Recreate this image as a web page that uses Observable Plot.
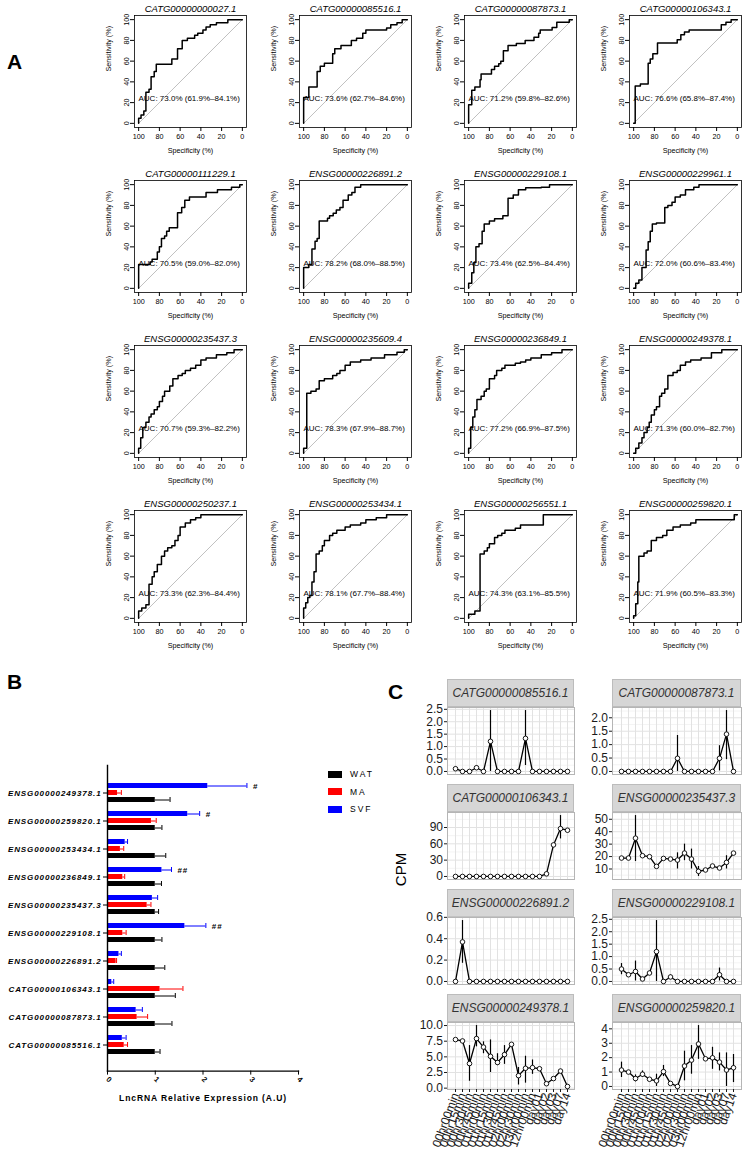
<!DOCTYPE html>
<html><head><meta charset="utf-8">
<script src="https://cdn.jsdelivr.net/npm/d3@7"></script>
<script src="https://cdn.jsdelivr.net/npm/@observablehq/plot@0.6"></script>
<style>
body{margin:0;background:#fff;}
#root{position:relative;width:742px;height:1153px;overflow:hidden;font-family:"Liberation Sans",Arial,sans-serif;background:#fff;}
#root > *{position:absolute;}
.plab{font-weight:bold;font-size:21px;color:#000;}
.strip{box-sizing:border-box;background:#d6d6d6;border:1px solid #bcbcbc;color:#333;font-style:italic;font-size:12px;display:flex;align-items:center;justify-content:center;}
.leg{font-size:8.5px;letter-spacing:2px;color:#000;display:flex;align-items:center;}
.leg span.sw{display:inline-block;width:14px;height:7px;margin-right:8px;}
</style></head>
<body><div id="root"></div>
<script>
// ---------------- Panel A: ROC curves ----------------
const rocNames = ["CATG00000000027.1","CATG00000085516.1","CATG00000087873.1","CATG00000106343.1",
  "CATG00000111229.1","ENSG00000226891.2","ENSG00000229108.1","ENSG00000229961.1",
  "ENSG00000235437.3","ENSG00000235609.4","ENSG00000236849.1","ENSG00000249378.1",
  "ENSG00000250237.1","ENSG00000253434.1","ENSG00000256551.1","ENSG00000259820.1"];
const rocAuc = ["AUC: 73.0% (61.9%\u201384.1%)","AUC: 73.6% (62.7%\u201384.6%)","AUC: 71.2% (59.8%\u201382.6%)","AUC: 76.6% (65.8%\u201387.4%)",
  "AUC: 70.5% (59.0%\u201382.0%)","AUC: 78.2% (68.0%\u201388.5%)","AUC: 73.4% (62.5%\u201384.4%)","AUC: 72.0% (60.6%\u201383.4%)",
  "AUC: 70.7% (59.3%\u201382.2%)","AUC: 78.3% (67.9%\u201388.7%)","AUC: 77.2% (66.9%\u201387.5%)","AUC: 71.3% (60.0%\u201382.7%)",
  "AUC: 73.3% (62.3%\u201384.4%)","AUC: 78.1% (67.7%\u201388.4%)","AUC: 74.3% (63.1%\u201385.5%)","AUC: 71.9% (60.5%\u201383.3%)"];
// [specificity, sensitivity] after each vertical step
const rocCurves = [
  [[100,0],[100,5],[97.7,8],[95,12],[93,30],[90,33],[88,45],[85,50],[83,57],[68,62],[62.5,72],[58,80],[53,82],[46,85],[43,87],[38,90],[35,93],[31,95],[25,97],[14,100],[0,100]],
  [[100,0],[100,25],[95,35],[87,50],[84,55],[80,58],[72,67],[70,72],[64,75],[54,80],[49,82],[43,87],[40,90],[20,92],[16,95],[10,97],[5,100],[0,100]],
  [[100,0],[100,18],[97,32],[94,35],[89,42],[88,47.5],[78,52],[75,55],[71,57.5],[69,60],[66.5,70],[62,75],[54,77],[45.5,80],[37,83],[32.5,87],[31,90],[19.5,92.5],[15,97.5],[3,100],[0,100]],
  [[100,0],[98.5,36],[93.5,38],[86,58],[84,62],[81.5,67],[77,77.5],[58,80.5],[54.5,85.5],[51,88],[46.5,90],[15.5,95],[11,97.5],[6,100],[0,100]],
  [[100,0],[100,23],[89,25.5],[87,28],[82,35],[80,40],[78,48],[75,50.5],[73,55],[70.5,58.5],[62.5,73],[58.5,78],[55.5,85],[51,88],[35,92.5],[24,95],[10.5,97.5],[2.5,100],[0,100]],
  [[100,0],[100,20],[95,23],[92,38],[89,45.5],[87,48],[85,65],[77,67.5],[75,70],[71.5,72.5],[68.5,75.5],[65,78],[62,85],[57,90],[53.5,92.5],[50.5,97.5],[45,100],[0,100]],
  [[100,0],[100,5],[97,15],[95,25],[93,40],[90,43],[87,55],[85,62],[80,65],[75,67],[67,70],[62,87],[57,90],[52,95],[45,97],[30,97.5],[22,100],[0,100]],
  [[100,0],[98,5],[95,8],[92,20],[88,37],[86,45],[84,55],[82,62],[78,63],[70,78],[67,80],[63,83],[60,88],[55,90],[50,95],[42,97.5],[37,100],[0,100]],
  [[100,0],[100,5],[98,15],[96,25],[93,30],[90,35],[88,38],[85,42],[82,45],[80,50],[77,55],[75,60],[70,65],[67,72],[62,75],[58,77],[55,80],[50,82],[45,85],[40,90],[35,92],[25,95],[15,97],[8,100],[0,100]],
  [[100,0],[100,5],[97,58],[93,60],[88,62],[85,70],[80,72],[72,75],[68,77],[65,80],[60,85],[55,88],[45,90],[35,92],[22,95],[10,97.5],[3,100],[0,100]],
  [[100,0],[100,5],[98,25],[96,35],[94,42],[92,52],[88,55],[85,60],[83,62],[80,72],[75,75],[73,80],[68,82],[65,85],[55,87],[50,88],[45,90],[40,92],[30,95],[20,97],[10,100],[0,100]],
  [[100,0],[98,5],[95,10],[92,15],[90,20],[87,25],[85,30],[83,37],[80,42],[78,45],[75,55],[73,58],[70,62],[67,75],[62,78],[58,80],[55,85],[50,88],[45,90],[35,92],[25,97],[15,100],[0,100]],
  [[100,0],[100,7],[97,10],[93,13],[90,33],[87,40],[85,45],[82,52],[78,60],[75,65],[72,68],[68,70],[65,75],[62,80],[60,88],[55,92],[50,95],[45,97],[40,100],[0,100]],
  [[100,0],[100,10],[98,15],[96,20],[94,22],[92,35],[90,45],[88,62],[85,65],[82,70],[80,75],[75,80],[72,82],[68,85],[60,88],[55,90],[45,92],[40,95],[30,97],[20,100],[0,100]],
  [[100,0],[100,4],[94,7],[89,62],[85,65],[82,68],[80,72],[75,78],[72,80],[68,82],[65,85],[55,87],[50,90],[30,90],[28,100],[0,100]],
  [[100,0],[100,2.5],[98,14],[96,35],[95,60],[90,63],[87,65],[83,75],[78,78],[72,80],[68,85],[62,88],[55,90],[45,92],[40,95],[5,95],[3,100],[0,100]]
];
const rocChance = [[100,0],[0,100]];
const rocTicks = [100,80,60,40,20,0];

// ---------------- Panel B: bar chart ----------------
const barCats = ["ENSG00000249378.1","ENSG00000259820.1","ENSG00000253434.1","ENSG00000236849.1","ENSG00000235437.3",
  "ENSG00000229108.1","ENSG00000226891.2","CATG00000106343.1","CATG00000087873.1","CATG00000085516.1"];
const barGroups = ["SVF","MA","WAT"];
const barColors = ["#0000ff","#ff0000","#000000"];
const watVal = [1,1,1,1,1,1,1,1,1,1];
const watErr = [1.31,1.14,1.22,1.13,1.07,1.14,1.20,1.42,1.35,1.10];
const maVal  = [0.21,0.92,0.27,0.32,0.83,0.32,0.18,1.10,0.62,0.35];
const maErr  = [0.29,1.02,0.34,0.36,0.91,0.39,0.19,1.58,0.84,0.42];
const svfVal = [2.10,1.68,0.37,1.14,0.94,1.62,0.24,0.09,0.60,0.31];
const svfErr = [2.92,1.93,0.42,1.34,1.05,2.06,0.29,0.13,0.73,0.39];
const svfSig = ["#","#","","##","","##","","","",""];
const barTicks = [0,1,2,3,4];
const legendNames = ["WAT","MA","SVF"];
const legendColors = ["#000000","#ff0000","#0000ff"];

// ---------------- Panel C: time courses ----------------
const cGenes = ["CATG00000085516.1","CATG00000087873.1","CATG00000106343.1","ENSG00000235437.3",
  "ENSG00000226891.2","ENSG00000229108.1","ENSG00000249378.1","ENSG00000259820.1"];
const cTime = ["00hr00min","00hr15min","00hr30min","00hr45min","01hr00min","01hr15min","01hr30min","01hr45min",
  "02hr00min","02hr30min","03hr00min","12hr00min","day01","day02","day03","day07","day14"];
const N = null;
const cVals = [
  [0.11,0,0,0.15,0,1.21,0,0,0,0,1.33,0,0,0,0,0,0],
  [0,0,0,0,0,0,0,0,0.49,0,0,0,0,0,0.49,1.39,0],
  [0,0,0,0,0,0,0,0,0,0,0,0,0,4.8,58,88,85],
  [18.8,18.8,34.8,20.7,19.9,12.1,18.5,18.0,17.2,22.8,18.0,8.1,9.2,12.4,10.8,15.3,22.8],
  [0,0.37,0,0,0,0,0,0,0,0,0,0,0,0,0,0,0],
  [0.5,0.27,0.4,0.1,0.34,1.2,0,0.18,0,0,0,0,0,0,0.27,0,0],
  [7.76,7.54,3.93,7.92,6.56,5.08,4.1,5.36,7.0,2.0,3.17,3.28,3.1,0.71,1.53,2.73,0.27],
  [1.14,1.0,0.55,0.85,0.5,0.39,1.03,0.21,0.0,1.42,1.83,2.95,1.92,1.99,1.69,1.14,1.3]
];
const cLo = [
  [0.05,N,N,0.08,N,0,N,N,N,N,0.24,N,N,N,N,N,N],
  [N,N,N,N,N,N,N,N,0,N,N,N,N,N,0.02,0.44,N],
  [N,N,N,N,N,N,N,N,N,N,N,N,N,N,N,69,N],
  [N,N,16,N,N,N,N,N,10,16.7,10,4,N,N,N,10,N],
  [N,0.17,N,N,N,N,N,N,N,N,N,N,N,N,N,N,N],
  [0.27,N,0.02,N,N,0,N,0.1,N,N,N,N,N,N,0.02,N,N],
  [N,N,1.1,6.6,5.5,2.5,3.6,3.8,N,0.5,0.8,2.2,N,N,N,2.45,N],
  [0.62,N,0.32,0.62,N,0,0.69,N,N,0.39,0.85,1.88,N,1.19,1.08,0,0.27]
];
const cHi = [
  [0.17,N,N,0.22,N,2.45,N,N,N,N,2.45,N,N,N,N,N,N],
  [N,N,N,N,N,N,N,N,1.34,N,N,N,N,N,0.96,2.27,N],
  [N,N,N,N,N,N,N,N,N,N,N,N,N,N,N,112,N],
  [N,N,53,N,N,N,N,N,23,30,26,12,N,N,N,20.7,N],
  [N,0.57,N,N,N,N,N,N,N,N,N,N,N,N,N,N,N],
  [0.72,N,0.82,N,N,2.45,N,0.26,N,N,N,N,N,N,0.54,N,N],
  [N,N,6.8,10.0,7.4,7.7,5.5,6.8,N,3.3,5.1,4.5,N,N,N,3.0,N],
  [1.69,N,0.8,1.08,N,0.85,1.46,N,N,2.45,2.84,4.23,N,2.72,2.33,2.33,2.22]
];
const cTicks = [[0,0.5,1,1.5,2,2.5],[0,0.5,1,1.5,2],[0,30,60,90],[10,20,30,40,50],
  [0,0.2,0.4,0.6],[0,0.5,1,1.5,2,2.5],[0,2.5,5,7.5,10],[0,1,2,3,4]];
const cTickFmt = [".1f",".1f","d","d",".1f",".1f",".1f","d"];

// ====================================================
const FONT = "'Liberation Sans', Arial, sans-serif";
const root = document.getElementById("root");
function place(el, left, top) { el.style.left = left + "px"; el.style.top = top + "px"; root.appendChild(el); return el; }
function div(cls, html, css) { const d = document.createElement("div"); d.className = cls; d.innerHTML = html; Object.assign(d.style, css || {}); return d; }

// Panel labels
place(div("plab", "A"), 7, 50);
place(div("plab", "B"), 7, 670);
place(div("plab", "C"), 388, 680);

// ---- A
function rocPlot(i) {
  return Plot.plot({
    width: 166, height: 166,
    marginLeft: 52, marginRight: 2, marginTop: 15, marginBottom: 39,
    style: {fontFamily: FONT, fontSize: "7.2px", overflow: "visible", background: "none", color: "#000"},
    x: {domain: [104, -4]},
    y: {domain: [-4, 104]},
    marks: [
      Plot.line(rocChance, {x: d => d[0], y: d => d[1], stroke: "#b0b0b0", strokeWidth: 0.8}),
      Plot.line(rocCurves[i], {x: d => d[0], y: d => d[1], curve: "step-after", stroke: "#000", strokeWidth: 1.5}),
      Plot.frame({stroke: "#000", strokeWidth: 0.8}),
      Plot.axisX({ticks: rocTicks, tickSize: 4, tickPadding: 2.5, fontSize: 7.2, label: null}),
      Plot.axisY({ticks: rocTicks, tickSize: 4, tickPadding: 2, tickRotate: -90, fontSize: 7.2, label: null}),
      Plot.text([rocNames[i]], {text: d => d, frameAnchor: "top", dy: -10, fontStyle: "italic", fontSize: 9.5}),
      Plot.text([rocAuc[i]], {text: d => d, frameAnchor: "bottom-left", dx: 4, dy: -27, textAnchor: "start", fontSize: 8}),
      Plot.text(["Specificity (%)"], {text: d => d, frameAnchor: "bottom", dy: 25, fontSize: 7.2}),
      Plot.text(["Sensitivity (%)"], {text: d => d, frameAnchor: "left", dx: -26, rotate: -90, fontSize: 7.2})
    ]
  });
}
rocNames.forEach((n, i) => {
  const c = i % 4, r = Math.floor(i / 4);
  place(rocPlot(i), 82 + 165 * c, 165 * r);
});

// ---- B
const barRows = [];
barCats.forEach((c, i) => {
  [["SVF", svfVal[i], svfErr[i], svfSig[i]], ["MA", maVal[i], maErr[i], ""], ["WAT", watVal[i], watErr[i], ""]]
    .forEach(([g, v, e, s]) => barRows.push({cat: c, g, key: c + "|" + g, v, e, s}));
});
const barKeys = barCats.flatMap((c, i) => {
  const k = barGroups.map(g => c + "|" + g);
  if (i < barCats.length - 1) k.push(c + "|gap");
  return k;
});
const bPlot = Plot.plot({
  width: 310, height: 370,
  marginLeft: 107, marginRight: 12, marginTop: 20, marginBottom: 44.4,
  style: {fontFamily: FONT, fontSize: "8px", overflow: "visible", background: "none", color: "#000", letterSpacing: "0.9px"},
  x: {domain: [0, 4]},
  y: {type: "band", domain: barKeys, paddingInner: 0.35, paddingOuter: 0.52},
  color: {domain: barGroups, range: barColors},
  marks: [
    Plot.barX(barRows, {x: "v", y: "key", fill: "g"}),
    Plot.ruleY(barRows, {x1: "v", x2: "e", y: "key", stroke: "g", strokeWidth: 1}),
    Plot.tickX(barRows, {x: "e", y: "key", stroke: "g", strokeWidth: 1}),
    Plot.text(barRows.filter(d => d.s), {x: "e", y: "key", text: "s", textAnchor: "start", dx: 6, fontSize: 8, fontWeight: "bold"}),
    Plot.frame({anchor: "left", strokeWidth: 1.4}),
    Plot.frame({anchor: "bottom", strokeWidth: 1.4}),
    Plot.axisX({ticks: barTicks, tickFormat: d => String(d), tickSize: 4, tickPadding: 3, tickRotate: 45, fontWeight: "bold", fontSize: 7.5, label: null}),
    Plot.axisY({ticks: barCats.map(c => c + "|MA"), tickFormat: k => k.split("|")[0], tickSize: 4, tickPadding: 2,
      fontWeight: "bold", fontStyle: "italic", fontSize: 8, label: null}),
    Plot.text(["LncRNA Relative Expression (A.U)"], {text: d => d, frameAnchor: "bottom", dy: 30, fontWeight: "bold", fontSize: 8.5})
  ]
});
place(bPlot, 0, 745);
legendNames.forEach((n, i) => {
  place(div("leg", `<span class="sw" style="background:${legendColors[i]}"></span>${n}`, {height: "10px"}), 328, 769 + 17.5 * i);
});

// ---- C
function cPlot(k) {
  const col = k % 2, row = Math.floor(k / 2);
  const rows = cTime.map((t, i) => ({t, v: cVals[k][i], lo: cLo[k][i], hi: cHi[k][i]}));
  const all = rows.flatMap(d => [d.v, d.lo, d.hi]).filter(v => v != null);
  const mn = d3.min(all), mx = d3.max(all), pad = (mx - mn) * 0.05;
  const dom = [mn - pad, mx + pad];
  const ticks = cTicks[k];
  const st = ticks[1] - ticks[0];
  const minor = [ticks[0] - st / 2, ...ticks.map(t => t + st / 2)].filter(v => v > dom[0] && v < dom[1]);
  const bottom = row === 3;
  const panelW = col === 0 ? 127 : 129;
  const ml = col === 0 ? 47 : 36;
  const mt = 8, mb = bottom ? 70 : 8, ph = 67;
  const marks = [
    Plot.gridY(minor, {stroke: "#ededed", strokeOpacity: 1, strokeWidth: 0.6}),
    Plot.gridY(ticks, {stroke: "#e2e2e2", strokeOpacity: 1, strokeWidth: 1}),
    Plot.gridX(cTime, {stroke: "#e2e2e2", strokeOpacity: 1, strokeWidth: 1}),
    Plot.frame({stroke: "#b5b5b5", strokeWidth: 1}),
    Plot.ruleX(rows.filter(d => d.lo != null), {x: "t", y1: "lo", y2: "hi", stroke: "#000", strokeWidth: 1.2}),
    Plot.line(rows, {x: "t", y: "v", stroke: "#000", strokeWidth: 1.3}),
    Plot.dot(rows, {x: "t", y: "v", r: 2.3, fill: "#fff", stroke: "#000", strokeWidth: 0.9}),
    Plot.axisY({ticks, tickFormat: d3.format(cTickFmt[k]), tickSize: 3, tickPadding: 1.5, fontSize: 12, label: null})
  ];
  if (bottom) marks.push(Plot.axisX({tickRotate: -70, tickSize: 3, tickPadding: 1, fontSize: 12, label: null}));
  const p = Plot.plot({
    width: ml + panelW + 1, height: mt + ph + mb,
    marginLeft: ml, marginRight: 1, marginTop: mt, marginBottom: mb,
    style: {fontFamily: FONT, fontSize: "12px", overflow: "visible", background: "none", color: "#1a1a1a"},
    x: {type: "point", domain: cTime, padding: 0.6, axis: bottom ? undefined : null},
    y: {domain: dom},
    marks
  });
  const panelLeft = col === 0 ? 447 : 612;
  const panelTop = 707 + 105 * row;
  place(div("strip", cGenes[k], {width: panelW + "px", height: "28px"}), panelLeft, panelTop - 28);
  place(p, panelLeft - ml, panelTop - mt);
}
cGenes.forEach((g, k) => cPlot(k));
place(div("", "CPM", {fontSize: "15px", color: "#000", transform: "rotate(-90deg)", transformOrigin: "center", width: "40px", textAlign: "center"}), 380, 861);
</script></body></html>
